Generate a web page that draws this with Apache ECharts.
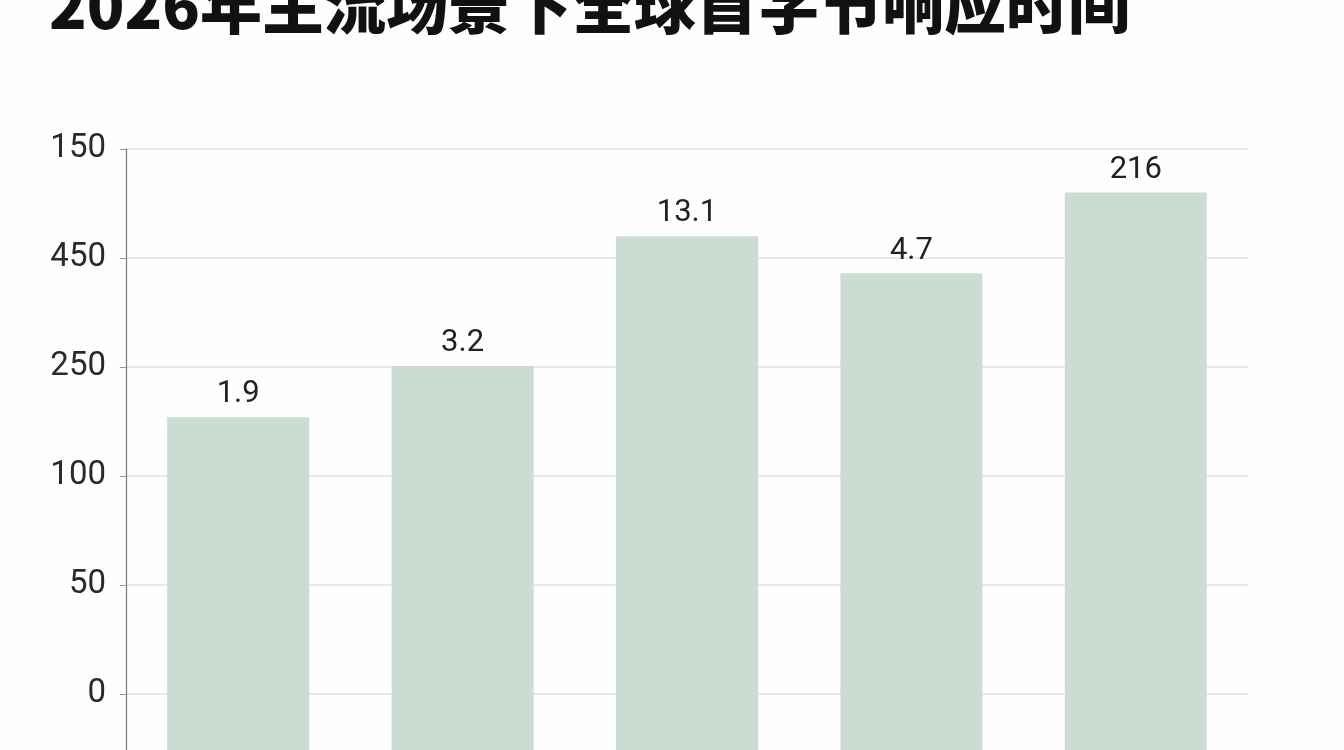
<!DOCTYPE html>
<html>
<head>
<meta charset="utf-8">
<title>2026年主流场景下全球首字节响应时间</title>
<script src="https://cdn.jsdelivr.net/npm/echarts@6/dist/echarts.min.js"></script>
<style>
  html, body { margin: 0; padding: 0; background: #fefefe; overflow: hidden; }
  /* taller than the window: the bars and the axis run off the bottom edge */
  #chart { width: 1344px; height: 803px; }
</style>
</head>
<body>
<div id="chart"></div>
<script>
// chart data
const categories = ['场景1', '场景2', '场景3', '场景4', '场景5'];
// value labels printed above the bars
const barLabels = ['1.9', '3.2', '13.1', '4.7', '216'];
// bar heights, read in gridline steps above the "0" line
const barHeights = [2.54, 3.01, 4.20, 3.86, 4.60];
// y axis tick labels, bottom to top, as printed
const tickLabels = ['0', '50', '100', '250', '450', '150'];

// one hidden step below the "0" line
const offset = 1;

const chart = echarts.init(document.getElementById('chart'));

chart.setOption({
  backgroundColor: '#fefefe',
  animation: false,
  title: {
    text: '2026年主流场景下全球首字节响应时间',
    left: 44,
    top: -31,
    textStyle: {
      fontFamily: '"Noto Sans CJK SC", sans-serif',
      fontSize: 62,
      fontWeight: 900,
      color: '#111111'
    }
  },
  grid: {
    left: 126,
    right: 96,
    top: 149,
    bottom: 0,
    containLabel: false
  },
  xAxis: {
    type: 'category',
    data: categories,
    axisLine: { show: false },
    axisTick: { show: false },
    axisLabel: { show: false }
  },
  yAxis: {
    type: 'value',
    min: 0,
    max: tickLabels.length - 1 + offset,
    interval: 1,
    axisLine: { show: true, lineStyle: { color: '#777777', width: 1.2 } },
    axisTick: { show: true, length: 6, lineStyle: { color: '#999999' } },
    splitLine: { show: true, lineStyle: { color: '#e2e2e2', width: 1.5 } },
    axisLabel: {
      margin: 20,
      padding: [4, 0, 0, 0],
      fontFamily: 'Roboto, sans-serif',
      fontSize: 33,
      color: '#2a2a2a',
      formatter: (v) => tickLabels[Math.round(v) - offset] ?? ''
    }
  },
  series: [{
    type: 'bar',
    barWidth: 142,
    data: barHeights.map((h) => h + offset),
    itemStyle: { color: '#cbdcd2' },
    label: {
      show: true,
      position: 'top',
      distance: 7,
      fontFamily: 'Roboto, sans-serif',
      fontSize: 31,
      color: '#222222',
      formatter: (p) => barLabels[p.dataIndex]
    }
  }]
});
</script>
</body>
</html>
